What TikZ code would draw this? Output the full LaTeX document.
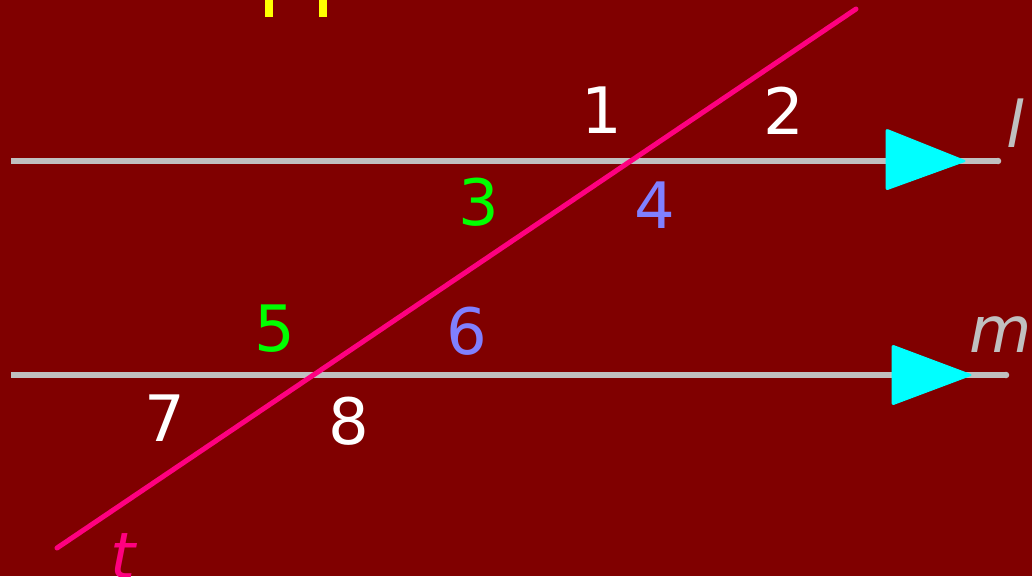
\documentclass[tikz,border=0pt]{standalone}
\usepackage{fontspec}
\setmainfont{DejaVu Sans}
\newfontfamily\obl{DejaVu Sans Oblique}
\definecolor{bgred}{HTML}{800000}
\definecolor{linegrey}{HTML}{C0C0C0}
\definecolor{tpink}{HTML}{FF0080}
\definecolor{lblue}{HTML}{8080FF}
\definecolor{bgreen}{HTML}{00FF00}
\definecolor{acyan}{HTML}{00FFFF}
\definecolor{byellow}{HTML}{FFFF00}
\begin{document}
\begin{tikzpicture}[x=1pt,y=-1pt,
  parline/.style={draw=linegrey,line width=6.5pt},
  transline/.style={draw=tpink,line width=5pt,line cap=round},
  arrowtri/.style={fill=acyan,draw=acyan,line width=1pt,rounded corners=2pt},
  num/.style={inner sep=0pt,font=\fontsize{64}{64}\selectfont},
  lbl/.style={inner sep=0pt,anchor=base west,font=\fontsize{64}{64}\selectfont\obl}]
\fill[bgred] (0,0) rectangle (1032,576);
\useasboundingbox (0,0) rectangle (1032,576);
\clip (0,0) rectangle (1032,576);
% yellow fragments at top
\fill[byellow] (265,-5) rectangle (273,17);
\fill[byellow] (319,-5) rectangle (327,17);
% parallel lines
\coordinate (l1) at (11,161);
\coordinate (l2) at (998,161);
\coordinate (m1) at (11,375);
\coordinate (m2) at (1006,375);
\draw[parline] (l1) -- (l2);
\draw[parline] (m1) -- (m2);
\fill[linegrey] (l2) circle (3.25pt);
\fill[linegrey] (m2) circle (3.25pt);
% arrow triangles
\draw[arrowtri] (886,129) -- (966,161) -- (886,190) -- cycle;
\draw[arrowtri] (892,345) -- (972,375) -- (892,405) -- cycle;
% transversal
\coordinate (t1) at (57,548);
\coordinate (t2) at (856,9);
\draw[transline] (t1) -- (t2);
% numbers
\node[num,text=white] (n1) at (602,110) {1};
\node[num,text=white] (n2) at (784,111) {2};
\node[num,text=bgreen] (n3) at (479,202) {3};
\node[num,text=lblue] (n4) at (655,205) {4};
\node[num,text=bgreen] (n5) at (275,329) {5};
\node[num,text=lblue] (n6) at (467,331) {6};
\node[num,text=white] (n7) at (165,418) {7};
\node[num,text=white] (n8) at (349,421) {8};
% line labels
\node[lbl,text=linegrey] (ll) at (1006,147) {l};
\node[lbl,text=linegrey] (lm) at (969,352) {m};
\node[lbl,text=tpink] (lt) at (110,578) {t};
\end{tikzpicture}
\end{document}
